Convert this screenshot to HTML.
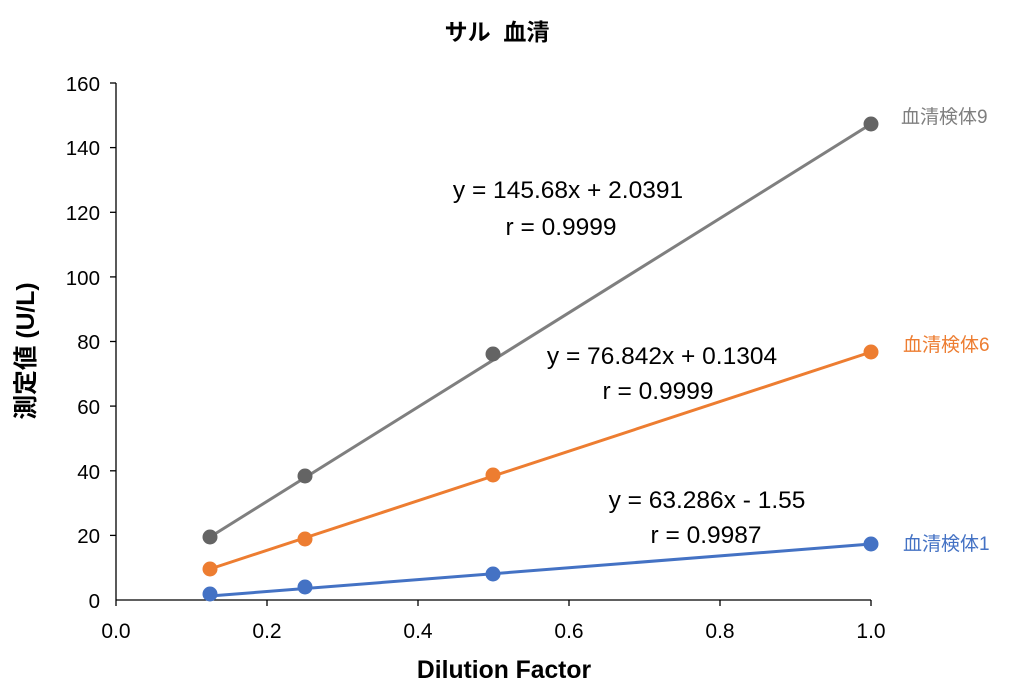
<!DOCTYPE html>
<html><head><meta charset="utf-8"><style>
body{margin:0;background:#fff;}
svg{display:block;font-family:"Liberation Sans","Noto Sans CJK JP",sans-serif;}
</style></head><body>
<svg width="1020" height="688" viewBox="0 0 1020 688">
<text x="497" y="40" font-size="23" font-weight="bold" text-anchor="middle" fill="#000" xml:space="preserve">サル  血清</text>
<line x1="116" y1="83" x2="116" y2="600" stroke="#000" stroke-width="1.3"/>
<line x1="116" y1="600" x2="871" y2="600" stroke="#000" stroke-width="1.3"/>
<g stroke="#000" stroke-width="1.3">
<line x1="110" y1="83" x2="116" y2="83"/><line x1="110" y1="147.6" x2="116" y2="147.6"/><line x1="110" y1="212.3" x2="116" y2="212.3"/><line x1="110" y1="276.9" x2="116" y2="276.9"/><line x1="110" y1="341.5" x2="116" y2="341.5"/><line x1="110" y1="406.1" x2="116" y2="406.1"/><line x1="110" y1="470.8" x2="116" y2="470.8"/><line x1="110" y1="535.4" x2="116" y2="535.4"/>
<line x1="116" y1="600" x2="116" y2="606"/><line x1="267" y1="600" x2="267" y2="606"/><line x1="418" y1="600" x2="418" y2="606"/><line x1="569" y1="600" x2="569" y2="606"/><line x1="720" y1="600" x2="720" y2="606"/><line x1="871" y1="600" x2="871" y2="606"/>
</g>
<g font-size="20.5" text-anchor="end" fill="#000">
<text x="100" y="91">160</text><text x="100" y="155">140</text><text x="100" y="220">120</text><text x="100" y="285">100</text><text x="100" y="349">80</text><text x="100" y="414">60</text><text x="100" y="479">40</text><text x="100" y="543">20</text><text x="100" y="608">0</text>
</g>
<g font-size="21" text-anchor="middle" fill="#000">
<text x="116" y="638">0.0</text><text x="267" y="638">0.2</text><text x="418" y="638">0.4</text><text x="569" y="638">0.6</text><text x="720" y="638">0.8</text><text x="871" y="638">1.0</text>
</g>
<text x="504" y="678" font-size="24.7" font-weight="bold" text-anchor="middle">Dilution Factor</text>
<text transform="translate(34,351) rotate(-90)" font-size="24.7" font-weight="bold" text-anchor="middle">測定値 (U/L)</text>
<line x1="210" y1="596" x2="871" y2="544" stroke="#4472C4" stroke-width="3"/>
<line x1="210" y1="569" x2="871" y2="352" stroke="#ED7D31" stroke-width="3"/>
<line x1="210" y1="537" x2="871" y2="124" stroke="#7F7F7F" stroke-width="3"/>
<g fill="#4472C4"><circle cx="210" cy="594" r="7.5"/><circle cx="305" cy="587" r="7.5"/><circle cx="493" cy="574" r="7.5"/><circle cx="871" cy="544" r="7.5"/></g>
<g fill="#ED7D31"><circle cx="210" cy="569" r="7.5"/><circle cx="305" cy="539" r="7.5"/><circle cx="493" cy="475" r="7.5"/><circle cx="871" cy="352" r="7.5"/></g>
<g fill="#646464"><circle cx="210" cy="537" r="7.5"/><circle cx="305" cy="476" r="7.5"/><circle cx="493" cy="354" r="7.5"/><circle cx="871" cy="124" r="7.5"/></g>
<g font-size="24.5" text-anchor="middle" fill="#000">
<text x="568" y="198">y = 145.68x + 2.0391</text><text x="561" y="235">r = 0.9999</text>
<text x="662" y="364">y = 76.842x + 0.1304</text><text x="658" y="399">r = 0.9999</text>
<text x="707" y="508">y = 63.286x - 1.55</text><text x="706" y="543">r = 0.9987</text>
</g>
<g font-size="19">
<text x="901" y="123" fill="#7F7F7F">血清検体9</text>
<text x="903" y="351" fill="#ED7D31">血清検体6</text>
<text x="903" y="550" fill="#4472C4">血清検体1</text>
</g>
</svg>
</body></html>
